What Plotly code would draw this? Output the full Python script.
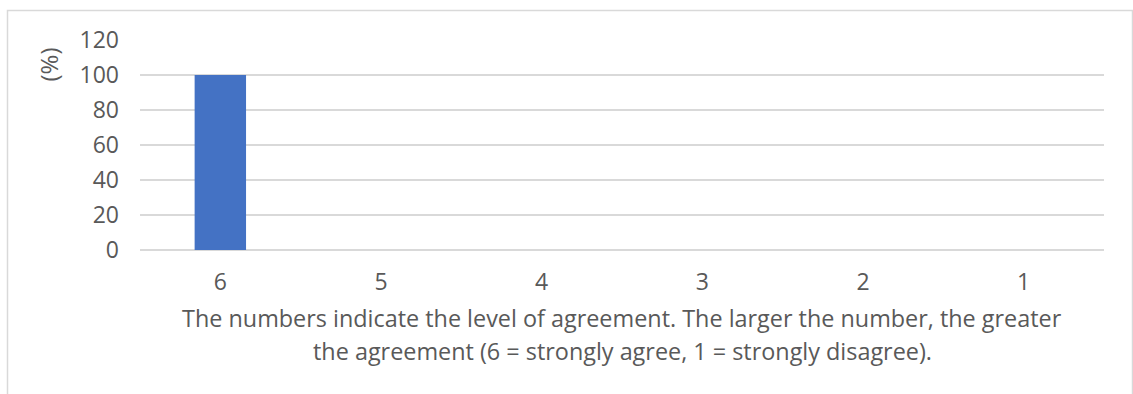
import plotly.graph_objects as go

# Agreement levels (6 = strongly agree ... 1 = strongly disagree) and share of responses
levels = ["6", "5", "4", "3", "2", "1"]
percent = [100, 0, 0, 0, 0, 0]
y_ticks = [0, 20, 40, 60, 80, 100, 120]
caption = [
    "The numbers indicate the level of agreement. The larger the number, the greater",
    "the agreement (6 = strongly agree, 1 = strongly disagree).",
]

W, H = 1133, 394
L, R, T, B = 140, 29, 40, 144
pw, ph = W - L - R, H - T - B

def px_x(x):
    return (x - L) / pw

def px_y(y):
    return (H - B - y) / ph

font = "Open Sans"
grey = "#595959"

fig = go.Figure(
    go.Bar(
        x=levels,
        y=percent,
        marker=dict(color="#4472C4", line=dict(width=0)),
        width=0.32,
    )
)

annotations = [
    dict(
        text="(%)",
        textangle=-90,
        xref="paper", yref="paper",
        x=px_x(48), y=px_y(64.5),
        xanchor="center", yanchor="middle",
        showarrow=False,
        font=dict(size=24, color=grey),
    )
]
for i, line in enumerate(caption):
    annotations.append(
        dict(
            text=line,
            xref="paper", yref="paper",
            x=0.5, y=px_y(318 + 33 * i),
            xanchor="center", yanchor="middle",
            showarrow=False,
            font=dict(size=23.4, color=grey),
        )
    )

fig.update_layout(
    width=W,
    height=H,
    margin=dict(l=L, r=R, t=T, b=B),
    paper_bgcolor="white",
    plot_bgcolor="white",
    showlegend=False,
    font=dict(family=font, color=grey, size=20),
    xaxis=dict(
        type="category",
        showgrid=False,
        showline=False,
        zeroline=False,
        ticks="",
        tickfont=dict(size=23, color=grey),
        ticklabelstandoff=16,
    ),
    yaxis=dict(
        range=[0, 120],
        tickvals=y_ticks,
        showgrid=True,
        gridcolor="#d9d9d9",
        gridwidth=1.5,
        zeroline=True,
        zerolinecolor="#d9d9d9",
        zerolinewidth=1.5,
        showline=False,
        ticks="",
        tickfont=dict(size=23, color=grey),
        ticklabelstandoff=20,
    ),
    annotations=annotations,
    shapes=[
        dict(
            type="rect",
            xref="paper", yref="paper",
            x0=px_x(7.5), x1=px_x(1132.5),
            y0=px_y(420), y1=px_y(10.5),
            line=dict(color="#d9d9d9", width=1.5),
            fillcolor="rgba(0,0,0,0)",
            layer="below",
        )
    ],
)

fig.write_html("out.html")
